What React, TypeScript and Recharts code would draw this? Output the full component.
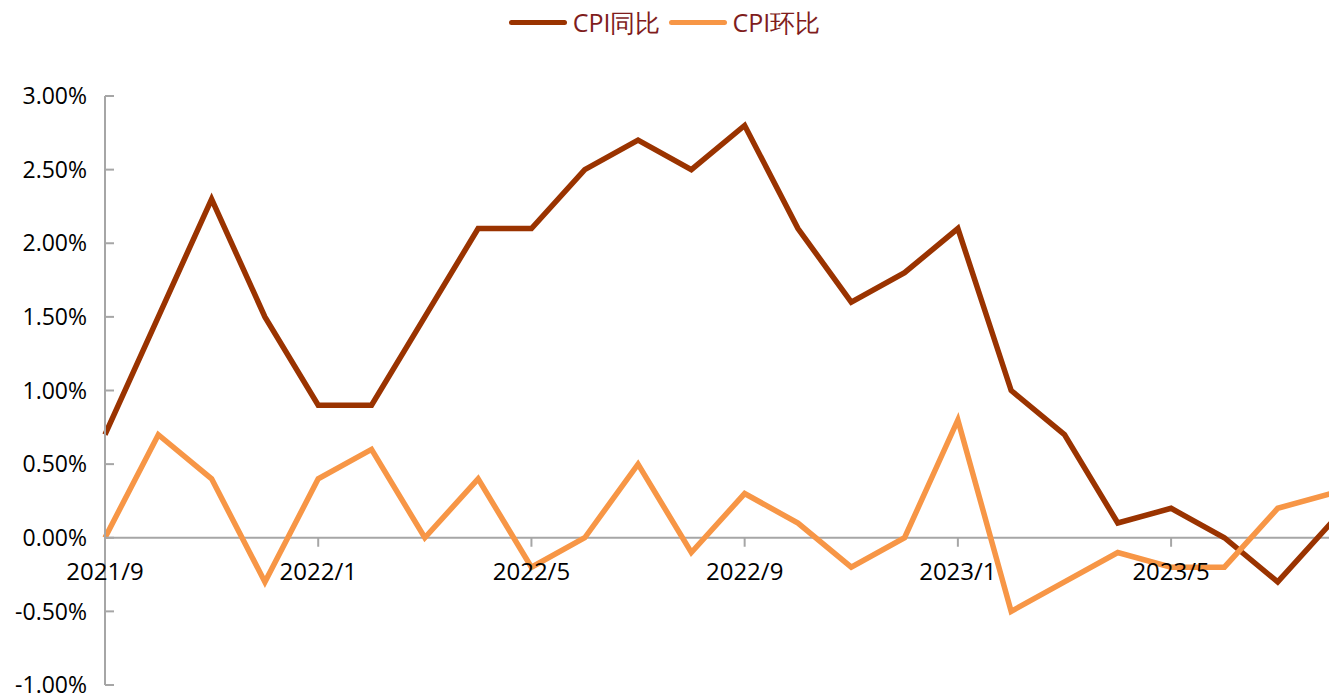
import { LineChart, Line, XAxis, YAxis, ReferenceLine } from "recharts";

const months = [
  "2021/9", "2021/10", "2021/11", "2021/12",
  "2022/1", "2022/2", "2022/3", "2022/4", "2022/5", "2022/6",
  "2022/7", "2022/8", "2022/9", "2022/10", "2022/11", "2022/12",
  "2023/1", "2023/2", "2023/3", "2023/4", "2023/5", "2023/6", "2023/7", "2023/8",
];
const cpiYoy = [0.7, 1.5, 2.3, 1.5, 0.9, 0.9, 1.5, 2.1, 2.1, 2.5, 2.7, 2.5, 2.8, 2.1, 1.6, 1.8, 2.1, 1.0, 0.7, 0.1, 0.2, 0.0, -0.3, 0.1];
const cpiMom = [0.0, 0.7, 0.4, -0.3, 0.4, 0.6, 0.0, 0.4, -0.2, 0.0, 0.5, -0.1, 0.3, 0.1, -0.2, 0.0, 0.8, -0.5, -0.3, -0.1, -0.2, -0.2, 0.2, 0.3];
const yTicks = [-1, -0.5, 0, 0.5, 1, 1.5, 2, 2.5, 3];

const data = months.map((m, i) => ({ month: m, yoy: cpiYoy[i], mom: cpiMom[i] }));

const BROWN = "#9A3300";
const ORANGE = "#F79646";
const AXIS = "#A6A6A6";
const FONT = "'Open Sans', sans-serif";

const TOP = 96;
const BOTTOM = 685;
const ZERO_Y = TOP + ((BOTTOM - TOP) * 3) / 4;

function XTick(props: any) {
  const { x, payload } = props;
  return (
    <g>
      <line x1={x} x2={x} y1={ZERO_Y} y2={ZERO_Y + 9} stroke={AXIS} strokeWidth={2} />
      <text x={x} y={ZERO_Y + 42} textAnchor="middle" fontSize={24} fontFamily={FONT} fill="#000">
        {payload.value}
      </text>
    </g>
  );
}

function LegendItem({ color, label }: { color: string; label: string }) {
  return (
    <div style={{ display: "flex", alignItems: "center", marginRight: 8 }}>
      <div style={{ width: 58, height: 5, background: color, borderRadius: 3, marginRight: 6 }} />
      <span style={{ fontSize: 25, color: "#7F1D1D", fontFamily: FONT }}>{label}</span>
    </div>
  );
}

export default function App() {
  return (
    <div style={{ position: "absolute", left: 0, top: 0, width: 1329, height: 695, overflow: "hidden", background: "#fff" }}>
      <div style={{ position: "absolute", top: 5, left: 0, width: 1329, display: "flex", justifyContent: "center", paddingLeft: 4 }}>
        <LegendItem color={BROWN} label="CPI同比" />
        <LegendItem color={ORANGE} label="CPI环比" />
      </div>
      <LineChart width={1341} height={695} data={data} margin={{ top: TOP, right: 10, bottom: 0, left: 0 }}>
        <YAxis
          domain={[-1, 3]}
          ticks={yTicks}
          width={105}
          tickFormatter={(v: number) => `${v.toFixed(2)}%`}
          tick={{ fontSize: 23, fontFamily: FONT, fill: "#000" }}
          axisLine={{ stroke: AXIS, strokeWidth: 2 }}
          tickLine={{ stroke: AXIS, strokeWidth: 2 }}
          tickSize={-9}
          tickMargin={27}
          interval={0}
        />
        <XAxis
          dataKey="month"
          height={10}
          interval={3}
          axisLine={false}
          tickLine={false}
          tick={<XTick />}
        />
        <ReferenceLine y={0} stroke={AXIS} strokeWidth={2} />
        <Line dataKey="yoy" stroke={BROWN} strokeWidth={5.5} dot={false} isAnimationActive={false} />
        <Line dataKey="mom" stroke={ORANGE} strokeWidth={5.5} dot={false} isAnimationActive={false} />
      </LineChart>
    </div>
  );
}
